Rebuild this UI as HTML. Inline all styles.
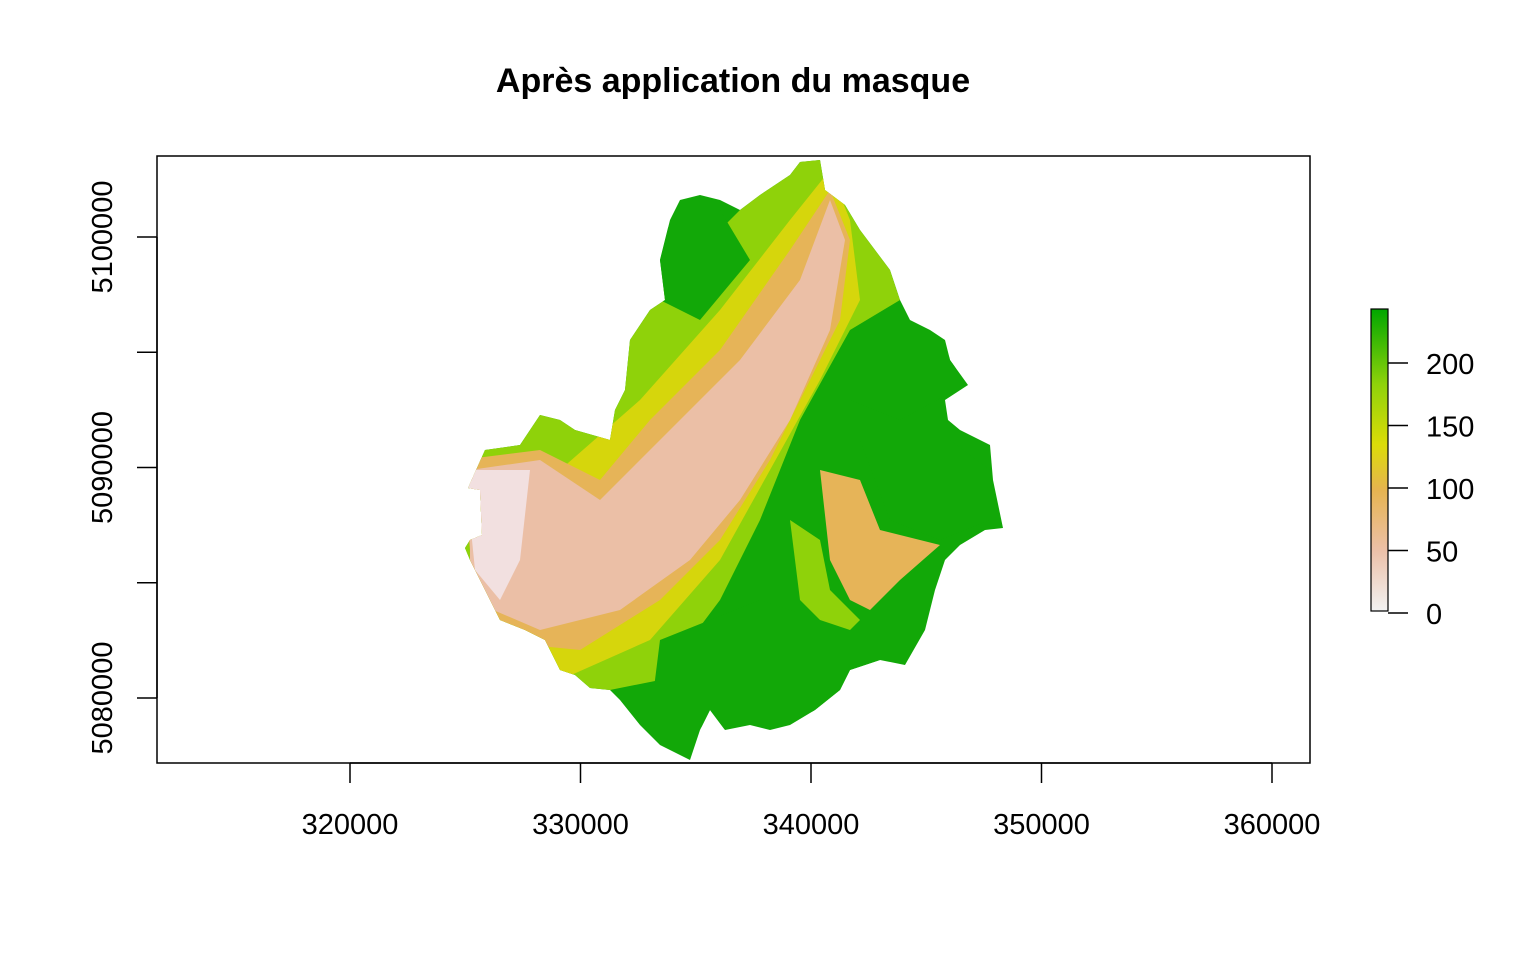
<!DOCTYPE html>
<html><head><meta charset="utf-8"><style>
body{margin:0;background:#fff;}
svg{display:block;font-family:"Liberation Sans",Arial,sans-serif;}
</style></head><body>
<svg id="chart" width="1536" height="960" viewBox="0 0 1536 960">
<text x="733" y="92" text-anchor="middle" font-size="34" font-weight="bold">Après application du masque</text>
<g id="map">
<clipPath id="clip"><polygon id="outline" points="465,548 470,540 482,535 480,490 468,488 485,450 520,445 540,415 560,420 575,430 610,440 615,410 625,390 630,340 650,310 665,300 660,260 670,220 680,200 700,195 720,200 740,210 760,195 790,175 800,162 820,160 825,190 845,205 860,230 875,250 890,270 900,300 910,320 930,330 945,340 950,360 968,385 945,400 948,420 960,430 990,445 993,480 1003,528 985,530 960,545 945,560 935,590 930,610 925,630 905,665 880,660 850,670 840,690 815,710 790,725 770,730 750,725 725,730 710,710 700,730 690,760 680,755 660,745 640,725 620,700 610,690 590,688 575,675 560,670 545,640 525,630 500,620 490,600 480,580 470,560"/></clipPath>
<g clip-path="url(#clip)">
<rect x="450" y="150" width="570" height="620" fill="#12a808"/>
<polygon fill="#8fd20a" points="450,420 560,400 620,330 700,250 790,160 840,160 880,240 900,300 850,330 800,420 760,520 720,600 660,680 560,700 450,700"/>
<polygon fill="#d6d60c" points="470,470 560,470 640,400 720,310 790,220 830,170 850,220 860,300 820,380 770,470 720,560 650,640 560,680 470,650"/>
<polygon fill="#e6b458" points="460,460 540,450 600,480 650,420 720,350 790,250 830,190 850,240 840,320 800,400 770,460 720,540 660,600 580,650 480,640"/>
<polygon fill="#ebbfa6" points="470,470 540,460 600,500 660,440 740,360 800,280 830,200 845,240 830,330 790,420 740,500 690,560 620,610 540,630 470,600"/>
<polygon fill="#f2e0e0" points="465,470 530,470 520,560 500,600 475,570"/>
<polygon fill="#e6b458" points="820,470 860,480 880,530 940,545 900,580 870,610 850,600 830,560"/>
<polygon fill="#8fd20a" points="790,520 820,540 830,590 860,620 840,640 800,600"/>
<polygon fill="#12a808" points="860,440 950,440 990,470 990,520 940,540 890,520"/>
<polygon fill="#12a808" points="660,640 760,600 850,630 880,660 820,710 720,730 650,720"/>
<polygon fill="#12a808" points="660,230 720,210 750,260 700,320 660,300"/>
<polygon fill="#12a808" points="860,330 940,340 965,385 900,420 850,400"/>
</g>
</g>
<rect x="157" y="156" width="1153" height="607" fill="none" stroke="#000" stroke-width="1.5"/>
<g id="xaxis"></g>
<g id="yaxis"></g>
<defs><linearGradient id="lg" x1="0" y1="1" x2="0" y2="0">
<stop offset="0" stop-color="#f2f2f2"/><stop offset="0.2" stop-color="#ecc0a8"/><stop offset="0.4" stop-color="#e6b450"/><stop offset="0.55" stop-color="#dcdc08"/><stop offset="0.75" stop-color="#8fd20a"/><stop offset="1" stop-color="#00a600"/></linearGradient></defs>
<rect x="1371" y="309" width="17" height="302" fill="url(#lg)" stroke="#000" stroke-width="1.2"/>
<g id="legend"></g>
<script>
const xTicks=[320000,330000,340000,350000,360000];
const yTicks=[5080000,5085000,5090000,5095000,5100000];
const yLabels=[5080000,5090000,5100000];
const legendTicks=[0,50,100,150,200];
const NS="http://www.w3.org/2000/svg";
const xs=v=>350+(v-320000)*0.02305;
const ys=v=>237+(5100000-v)*0.02305;
const ls=v=>613-v*1.25;
function el(t,a,p){const e=document.createElementNS(NS,t);for(const k in a)e.setAttribute(k,a[k]);p.appendChild(e);return e;}
const xa=document.getElementById('xaxis'),ya=document.getElementById('yaxis'),lg=document.getElementById('legend');
el('line',{x1:xs(xTicks[0]),x2:xs(xTicks[xTicks.length-1]),y1:763,y2:763,stroke:'#000','stroke-width':1.5},xa);
xTicks.forEach(v=>{const x=xs(v);
const t=el('line',{x1:x,x2:x,y1:763,y2:783,stroke:'#000','stroke-width':1.5},xa);


const l=el('text',{x:x,y:834,'text-anchor':'middle','font-size':29},xa);l.textContent=v;

});
el('line',{x1:157,x2:157,y1:ys(yTicks[0]),y2:ys(yTicks[yTicks.length-1]),stroke:'#000','stroke-width':1.5},ya);
yTicks.forEach(v=>{const y=ys(v);
const t=el('line',{x1:137,x2:157,y1:y,y2:y,stroke:'#000','stroke-width':1.5},ya);

});
yLabels.forEach(v=>{const y=ys(v);
const l=el('text',{x:0,y:0,'text-anchor':'middle','font-size':29,transform:`translate(112,${y}) rotate(-90)`},ya);l.textContent=v;

});
legendTicks.forEach(v=>{const y=ls(v);
const t=el('line',{x1:1388,x2:1408,y1:y,y2:y,stroke:'#000','stroke-width':1.5},lg);


const l=el('text',{x:1426,y:y+11,'font-size':29},lg);l.textContent=v;

});
</script>
</svg>
</body></html>
